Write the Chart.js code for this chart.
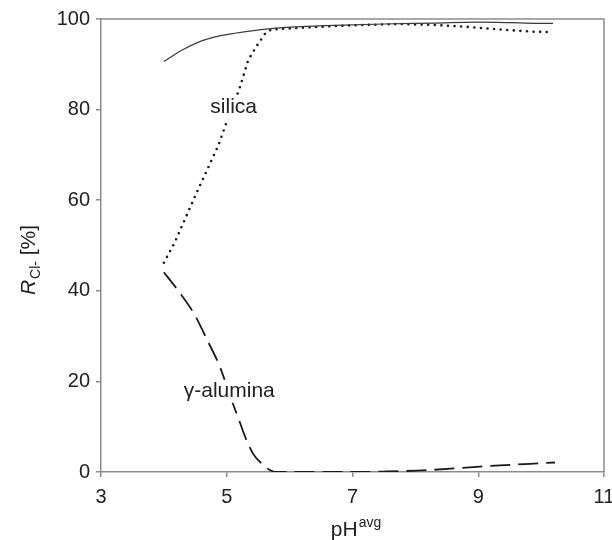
<!DOCTYPE html>
<html>
<head>
<meta charset="utf-8">
<script src="https://cdn.jsdelivr.net/npm/chart.js@4.4.1/dist/chart.umd.min.js"></script>
<style>
  html, body { margin: 0; padding: 0; background: #fff; }
  #wrap { width: 612px; height: 540px; }
</style>
</head>
<body>
<div id="wrap"><canvas id="chart" width="612" height="540"></canvas></div>
<script>
// Valores (pH medio vs retención de Cl-)
const phBlank = [4.0, 4.3, 4.57, 4.8, 5.1, 5.58, 6.0, 6.7, 7.5, 8.3, 8.97, 9.5, 9.93, 10.19];
const rBlank  = [90.6, 93.2, 95.0, 96.0, 96.8, 97.7, 98.2, 98.6, 98.9, 99.1, 99.3, 99.2, 99.05, 99.05];

const phSilica = [4.0, 4.17, 4.5, 4.87, 5.02, 5.2, 5.34, 5.47, 5.61, 5.71, 6.5, 7.0, 7.75, 8.28, 8.8, 9.23, 9.87, 10.19];
const rSilica  = [46.2, 50.6, 61.0, 72.2, 78.1, 84.5, 90.9, 93.9, 96.8, 97.7, 98.3, 98.6, 98.9, 98.7, 98.3, 97.8, 97.2, 97.1];

const phAlumina = [4.0, 4.23, 4.49, 4.69, 4.88, 5.0, 5.1, 5.2, 5.3, 5.42, 5.53, 5.64, 5.79, 6.5, 7.0, 7.5, 8.18, 9.03, 10.22];
const rAlumina  = [44.1, 40.0, 34.7, 29.1, 23.6, 19.0, 15.0, 11.3, 7.5, 4.0, 2.2, 0.8, 0, 0, 0, 0.1, 0.4, 1.2, 2.1];

const xTicks = [3, 5, 7, 9, 11];
const yTicks = [0, 20, 40, 60, 80, 100];

// Etiquetas dentro del gráfico (texto y posición en unidades de datos)
const labelTexts = ['silica', 'γ-alumina'];
const labelPh    = [5.11, 5.04];
const labelR     = [79.2, 16.6];

const FONT = '"Liberation Sans", Arial, Helvetica, sans-serif';
const AXIS_COLOR = '#8c8c8c';
const TEXT_COLOR = '#222';

const toPoints = (xs, ys) => xs.map((x, i) => ({ x: x, y: ys[i] }));

const extrasPlugin = {
  id: 'extras',
  beforeDatasetsDraw(chart) {
    // marco superior y derecho
    const { ctx, chartArea: a } = chart;
    ctx.save();
    ctx.strokeStyle = AXIS_COLOR;
    ctx.lineWidth = 1.5;
    ctx.beginPath();
    ctx.moveTo(a.left, a.top);
    ctx.lineTo(a.right, a.top);
    ctx.lineTo(a.right, a.bottom);
    ctx.stroke();
    ctx.restore();
  },
  afterDatasetsDraw(chart) {
    const { ctx } = chart;
    const xs = chart.scales.x, ys = chart.scales.y;
    ctx.save();
    ctx.font = '21px ' + FONT;
    ctx.textAlign = 'center';
    ctx.textBaseline = 'alphabetic';
    labelTexts.forEach((t, i) => {
      const px = xs.getPixelForValue(labelPh[i]);
      const py = ys.getPixelForValue(labelR[i]);
      const w = ctx.measureText(t).width;
      ctx.fillStyle = '#fff';
      ctx.fillRect(px - w / 2 - 2, py - 17, w + 4, 23);
      ctx.fillStyle = TEXT_COLOR;
      ctx.fillText(t, px, py);
    });
    ctx.restore();
  },
  afterDraw(chart) {
    const { ctx, chartArea: a } = chart;
    ctx.save();
    ctx.fillStyle = TEXT_COLOR;
    ctx.textBaseline = 'alphabetic';
    ctx.textAlign = 'left';

    // título eje X: pH^avg
    ctx.font = '21px ' + FONT;
    const wMain = ctx.measureText('pH').width;
    ctx.font = '14px ' + FONT;
    const wSup = ctx.measureText('avg').width;
    const cx = (a.left + a.right) / 2 + 3;
    let x0 = cx - (wMain + wSup) / 2;
    ctx.font = '21px ' + FONT;
    ctx.fillText('pH', x0, 536);
    ctx.font = '14px ' + FONT;
    ctx.fillText('avg', x0 + wMain + 1, 527);

    // título eje Y: R_Cl- [%]
    ctx.translate(35, 0);
    ctx.rotate(-Math.PI / 2);
    ctx.font = 'italic 21px ' + FONT;
    const wR = ctx.measureText('R').width;
    ctx.font = '14px ' + FONT;
    const wSub = ctx.measureText('Cl-').width;
    ctx.font = '21px ' + FONT;
    const wRest = ctx.measureText(' [%]').width;
    const total = wR + wSub + wRest;
    const cy = (a.top + a.bottom) / 2 + 15;
    let s = -cy - total / 2;
    ctx.font = 'italic 21px ' + FONT;
    ctx.fillText('R', s, 0);
    s += wR + 1;
    ctx.font = '14px ' + FONT;
    ctx.fillText('Cl-', s, 5);
    s += wSub;
    ctx.font = '21px ' + FONT;
    ctx.fillText(' [%]', s, 0);
    ctx.restore();
  }
};

const lineCommon = {
  pointRadius: 0,
  pointHoverRadius: 0,
  fill: false
};

new Chart(document.getElementById('chart'), {
  type: 'line',
  data: {
    datasets: [
      Object.assign({}, lineCommon, {
        label: 'blank',
        data: toPoints(phBlank, rBlank),
        borderColor: '#3a3a3a',
        borderWidth: 1.2,
        cubicInterpolationMode: 'monotone'
      }),
      Object.assign({}, lineCommon, {
        label: 'silica',
        data: toPoints(phSilica, rSilica),
        borderColor: '#1a1a1a',
        borderWidth: 2.6,
        borderDash: [0, 6.6],
        borderCapStyle: 'round',
        tension: 0
      }),
      Object.assign({}, lineCommon, {
        label: 'γ-alumina',
        data: toPoints(phAlumina, rAlumina),
        borderColor: '#1a1a1a',
        borderWidth: 1.8,
        borderDash: [20, 8],
        cubicInterpolationMode: 'monotone'
      })
    ]
  },
  options: {
    responsive: false,
    animation: false,
    layout: { padding: { left: 0, right: 8, top: 19, bottom: 0 } },
    plugins: {
      legend: { display: false },
      tooltip: { enabled: false }
    },
    scales: {
      x: {
        type: 'linear',
        min: 3,
        max: 11,
        afterBuildTicks: (scale) => { scale.ticks = xTicks.map(v => ({ value: v })); },
        afterFit: (scale) => { scale.height = 68; scale.paddingLeft = 0; scale.paddingRight = 0; },
        grid: { drawOnChartArea: false, drawTicks: true, tickLength: 5, color: AXIS_COLOR, lineWidth: 1.5 },
        border: { color: AXIS_COLOR, width: 1.5 },
        ticks: { font: { family: FONT, size: 20 }, color: TEXT_COLOR, padding: 8, maxRotation: 0 }
      },
      y: {
        min: 0,
        max: 100,
        afterBuildTicks: (scale) => { scale.ticks = yTicks.map(v => ({ value: v })); },
        afterFit: (scale) => { scale.width = 101; scale.paddingTop = 0; scale.paddingBottom = 0; },
        grid: { drawOnChartArea: false, drawTicks: true, tickLength: 5, color: AXIS_COLOR, lineWidth: 1.5 },
        border: { color: AXIS_COLOR, width: 1.5 },
        ticks: { font: { family: FONT, size: 20 }, color: TEXT_COLOR, padding: 6 }
      }
    }
  },
  plugins: [extrasPlugin]
});
</script>
</body>
</html>
